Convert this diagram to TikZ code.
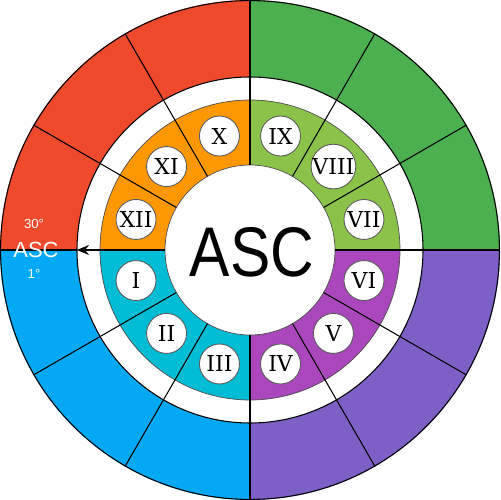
\documentclass[tikz,border=0pt]{standalone}
\usepackage{fontspec}
\setmainfont{DejaVu Serif}
\newfontfamily\ascfont{Liberation Sans}
\usetikzlibrary{arrows.meta}
\definecolor{ored}{RGB}{239,74,43}
\definecolor{ogreen}{RGB}{76,175,80}
\definecolor{oblue}{RGB}{3,169,244}
\definecolor{opurple}{RGB}{126,95,198}
\definecolor{iorange}{RGB}{255,152,0}
\definecolor{igreen}{RGB}{139,195,74}
\definecolor{icyan}{RGB}{0,188,212}
\definecolor{ipurple}{RGB}{171,71,188}
\tikzset{
  numc/.style={circle, fill=white, draw=black!65, line width=0.5pt, minimum size=0.8cm, inner sep=0pt,
    font=\fontsize{12.5}{12.5}\selectfont},
  divline/.style={black, line width=0.6pt},
  ringline/.style={black!70, line width=0.4pt},
  wlabel/.style={white, font=\ascfont\fontsize{#1}{#1}\selectfont, inner sep=0pt}
}
\begin{document}
\begin{tikzpicture}[x=0.02cm,y=0.02cm]
\useasboundingbox (-250,-250) rectangle (250,250);
% outer ring quadrants
\fill[ogreen] (0,0) -- (0:250) arc[start angle=0,end angle=90,radius=250] -- cycle;
\fill[ored] (0,0) -- (90:250) arc[start angle=90,end angle=180,radius=250] -- cycle;
\fill[oblue] (0,0) -- (180:250) arc[start angle=180,end angle=270,radius=250] -- cycle;
\fill[opurple] (0,0) -- (270:250) arc[start angle=270,end angle=360,radius=250] -- cycle;
\fill[white] (0,0) circle[radius=173];
% inner ring quadrants
\fill[igreen] (0,0) -- (0:150) arc[start angle=0,end angle=90,radius=150] -- cycle;
\fill[iorange] (0,0) -- (90:150) arc[start angle=90,end angle=180,radius=150] -- cycle;
\fill[icyan] (0,0) -- (180:150) arc[start angle=180,end angle=270,radius=150] -- cycle;
\fill[ipurple] (0,0) -- (270:150) arc[start angle=270,end angle=360,radius=150] -- cycle;
\fill[white] (0,0) circle[radius=85];
% outlines
\draw[divline] (0,0) circle[radius=249.4];
\draw[divline] (0,0) circle[radius=173];
\draw[ringline] (0,0) circle[radius=150];
\draw[ringline] (0,0) circle[radius=85];
% dividers
\foreach \a in {0,30,60,90,120,150,210,240,270,300,330}
  \draw[divline] (\a:85) -- (\a:250);
\coordinate (ascin) at (180:85);
\coordinate (ascout) at (180:173);
\coordinate (ascedge) at (180:250);
\draw[divline] (ascout) -- (ascedge);
\draw[divline, -{Stealth[length=12*0.02cm, width=10*0.02cm]}] (ascin) -- (ascout);
% numerals
\foreach \a/\t in {165/XII,135/XI,105/X,75/IX,45/VIII,15/VII,-15/VI,-45/V,-75/IV,-105/III,-135/II,-165/I}
  \node[numc] (n\t) at (\a:118) {\t};
% centre
\node[font=\ascfont\fontsize{40}{40}\selectfont, inner sep=0pt] (asc) at (2,-2) {\scalebox{0.86}[1]{ASC}};
% side labels
\node[wlabel=12.5] (ascl) at (-214,0) {ASC};
\node[wlabel=7.5] (deg30) at (-216,26) {30°};
\node[wlabel=7.5] (deg1) at (-216,-24) {1°};
\end{tikzpicture}
\end{document}
